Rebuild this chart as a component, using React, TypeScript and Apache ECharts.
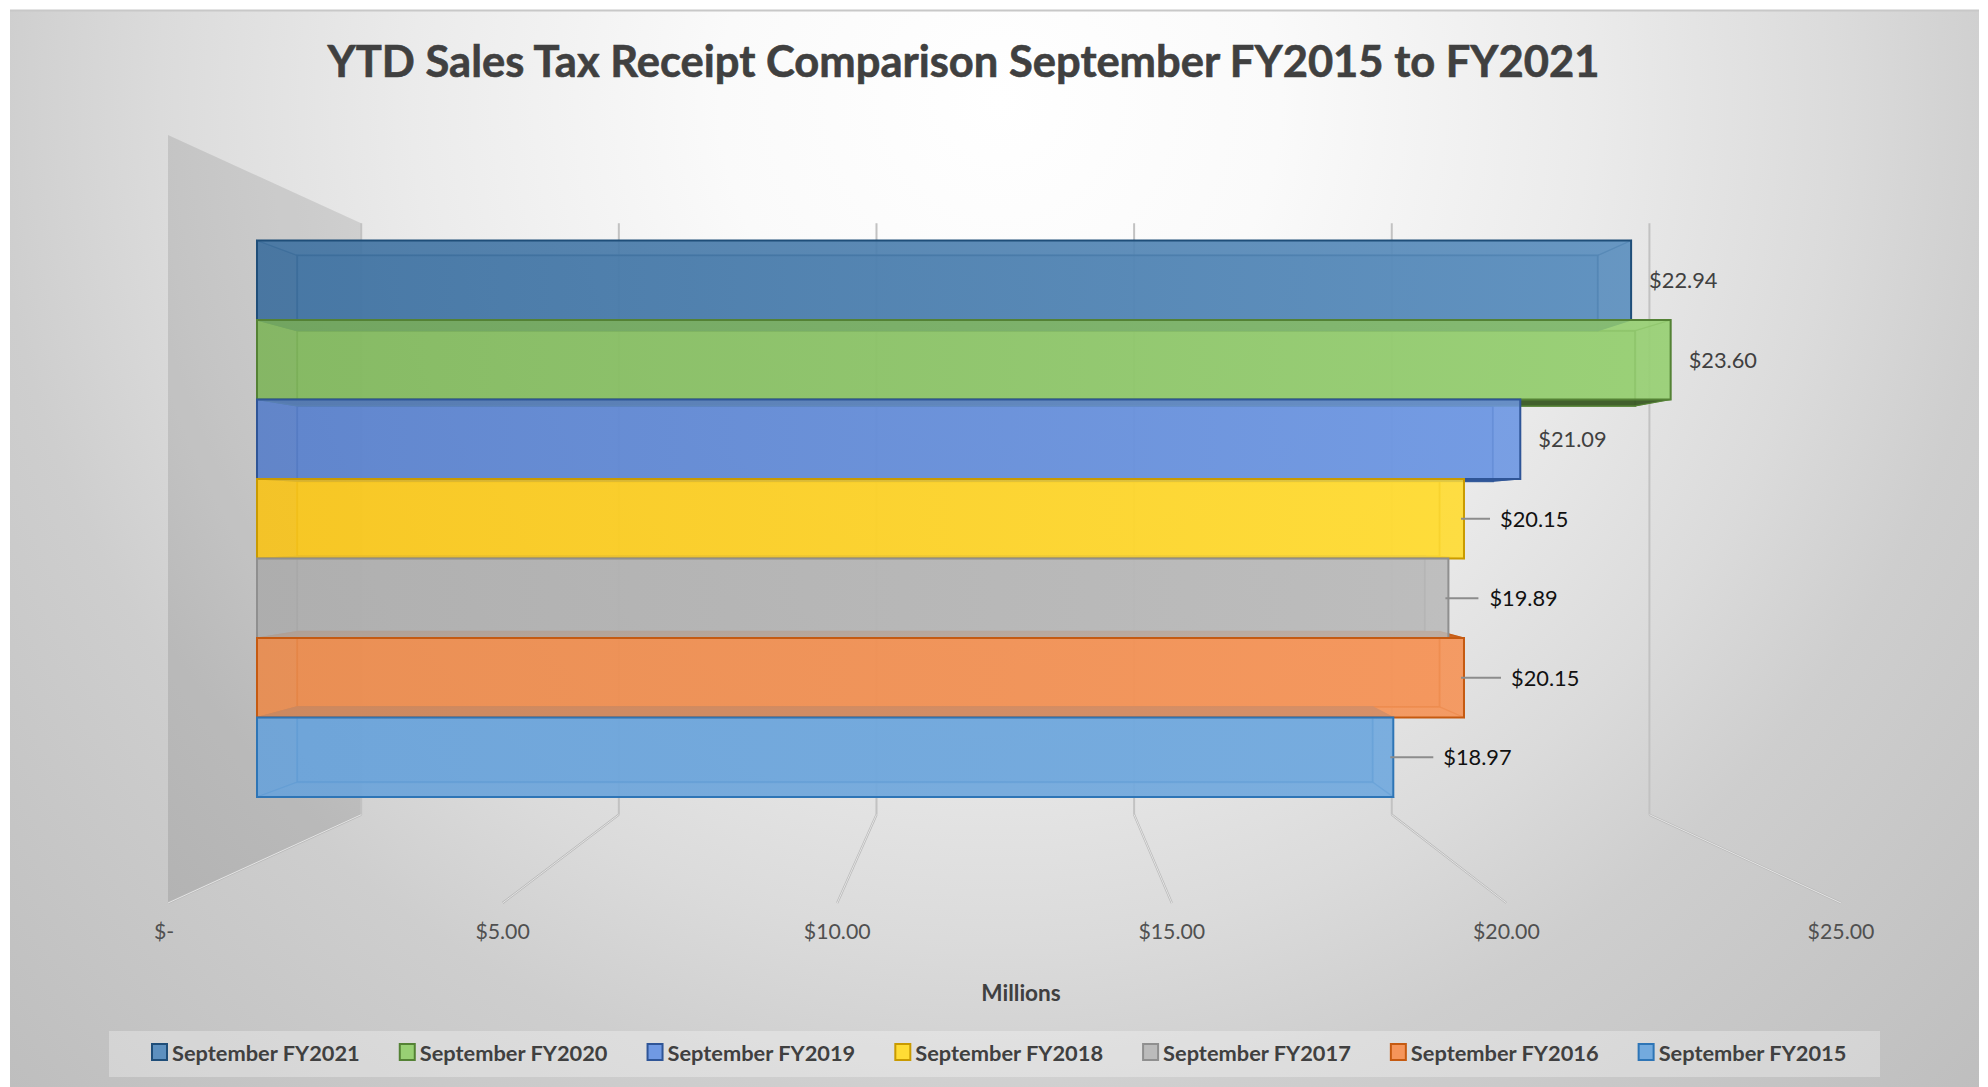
import React, { useEffect, useRef } from "react";
import * as echarts from "echarts";

const titleText = "YTD Sales Tax Receipt Comparison September FY2015 to FY2021";
const axisName = "Millions";
const seriesNames = [
  "September FY2021",
  "September FY2020",
  "September FY2019",
  "September FY2018",
  "September FY2017",
  "September FY2016",
  "September FY2015",
];
const seriesValues = [22.94, 23.6, 21.09, 20.15, 19.89, 20.15, 18.97];
const tickValues = [0, 5, 10, 15, 20, 25];

// styles, one per series
const leftColors = ["#3f709e", "#80b55d", "#5a80c9", "#f7c31c", "#acacac", "#e98c4f", "#6ba3d9"];
const rightColors = ["#5d90bf", "#98d074", "#7099e3", "#ffdc35", "#bbbbbb", "#f5955a", "#73aade"];
const edgeColors = ["#1f4e79", "#548235", "#2f5597", "#c99a00", "#8f8f8f", "#c55a11", "#2e75b6"];
const stickColors = ["#234a70", "#3c5a28", "#2f5597", "#c99a00", "#8f8f8f", "#c9601a", "#2e75b6"];
const labelGaps = [18, 18, 18, 36, 41, 47, 50];
const leaderGaps = [0, 0, 0, 26, 30, 37, 40];
const labelColors = ["#404040", "#404040", "#404040", "#111111", "#111111", "#111111", "#111111"];

const VP = { x: 1008, y: 519 };
const BAR_DEPTH = 0.9466;
const WALL_DEPTH = 0.77;
const FONT = "Lato, Carlito, sans-serif";

const project = (p: number[], k: number) => [VP.x + k * (p[0] - VP.x), VP.y + k * (p[1] - VP.y)];

function renderBar(idx: number) {
  return (_params: any, api: any) => {
    const value = api.value(0);
    const center = api.coord([value, api.value(1)]);
    const origin = api.coord([0, api.value(1)]);
    const band = api.size([0, 1])[1];
    const xL = origin[0];
    const xR = center[0];
    const yT = center[1] - band / 2;
    const yB = center[1] + band / 2;
    const [ixL, iyT] = project([xL, yT], BAR_DEPTH);
    const [ixR, iyB] = project([xR, yB], BAR_DEPTH);
    const z = 10 + idx * 10;
    const poly = (points: number[][], fill: string, opacity: number, z2: number) => ({
      type: "polygon",
      z2,
      shape: { points },
      style: { fill, opacity, stroke: edgeColors[idx], lineWidth: 1.2 },
    });
    const topOut = iyT < yT;
    const botOut = iyB > yB;
    const children: any[] = [
      // back face
      {
        type: "rect",
        z2: 1,
        shape: { x: ixL, y: iyT, width: ixR - ixL, height: iyB - iyT },
        style: { fill: rightColors[idx], opacity: 0.8, stroke: edgeColors[idx], lineWidth: 2 },
      },
      // end faces
      poly([[xL, yT], [ixL, iyT], [ixL, iyB], [xL, yB]], leftColors[idx], 0.55, 2),
      poly([[xR, yT], [ixR, iyT], [ixR, iyB], [xR, yB]], rightColors[idx], 0.55, 2),
      // top and bottom faces: dark where they stick out, pale where seen from within
      topOut
        ? poly([[xL, yT], [xR, yT], [ixR, iyT], [ixL, iyT]], stickColors[idx], 0.95, 3)
        : poly([[xL, yT], [xR, yT], [ixR, iyT], [ixL, iyT]], rightColors[idx], 0.55, 2),
      botOut
        ? poly([[xL, yB], [xR, yB], [ixR, iyB], [ixL, iyB]], stickColors[idx], 0.95, 3)
        : poly([[xL, yB], [xR, yB], [ixR, iyB], [ixL, iyB]], rightColors[idx], 0.55, 2),
      // front face
      {
        type: "rect",
        z2: z + 2,
        shape: { x: xL, y: yT, width: xR - xL, height: yB - yT },
        style: {
          opacity: 0.84,
          fill: {
            type: "linear",
            x: 0,
            y: 0,
            x2: 1,
            y2: 0,
            colorStops: [
              { offset: 0, color: leftColors[idx] },
              { offset: 1, color: rightColors[idx] },
            ],
          },
        },
      },
      {
        type: "rect",
        z2: z + 3,
        shape: { x: xL, y: yT, width: xR - xL, height: yB - yT },
        style: { fill: "none", stroke: edgeColors[idx], lineWidth: 2 },
      },
      // value label
      {
        type: "text",
        z2: 200,
        style: {
          x: xR + labelGaps[idx],
          y: center[1] - 0.5,
          text: `$${value.toFixed(2)}`,
          fill: labelColors[idx],
          fontFamily: FONT,
          fontSize: 21.8,
          verticalAlign: "middle",
          align: "left",
        },
      },
    ];
    if (leaderGaps[idx] > 0) {
      children.push({
        type: "line",
        z2: 199,
        shape: { x1: xR - 3, y1: center[1], x2: xR + leaderGaps[idx], y2: center[1] },
        style: { stroke: "#8c8c8c", lineWidth: 2 },
      });
    }
    return { type: "group", children };
  };
}

function renderWall(_params: any, api: any) {
  const v = api.value(0);
  const fb = api.coord([v, 0]);
  const ft = api.coord([v, 1]);
  const bb = project(fb, WALL_DEPTH);
  const bt = project(ft, WALL_DEPTH);
  const children: any[] = [];
  if (v === 0) {
    children.push({
      type: "polygon",
      shape: { points: [ft, bt, bb, fb] },
      style: { fill: "rgba(0,0,0,0.1)" },
    });
  }
  children.push(
    {
      type: "line",
      shape: { x1: bt[0], y1: bt[1], x2: bb[0], y2: bb[1] },
      style: { stroke: "#c2c2c2", lineWidth: 2 },
    },
    {
      type: "line",
      shape: { x1: bb[0], y1: bb[1], x2: fb[0], y2: fb[1] },
      style: { stroke: "#b8b8b8", lineWidth: 2.2 },
    },
    {
      type: "line",
      shape: { x1: bb[0], y1: bb[1], x2: fb[0], y2: fb[1] },
      style: { stroke: "#e4e4e4", lineWidth: 1 },
    }
  );
  return { type: "group", children };
}

export default function App() {
  const ref = useRef<HTMLDivElement>(null);
  useEffect(() => {
    document.body.style.margin = "0";
    const chart = echarts.init(ref.current!, undefined, { renderer: "svg" });
    chart.setOption({
      animation: false,
      backgroundColor: "#ffffff",
      title: {
        text: titleText,
        left: 958.5,
        top: 33,
        textAlign: "center",
        textStyle: {
          fontFamily: FONT,
          fontSize: 43.5,
          fontWeight: "bold",
          color: "#404040",
          textBorderColor: "#404040",
          textBorderWidth: 0.6,
        },
      },
      graphic: [
        {
          type: "rect",
          z: -10,
          shape: { x: 10, y: 10, width: 1969, height: 1077 },
          style: {
            fill: {
              type: "radial",
              global: true,
              x: 1000,
              y: 100,
              r: 1400,
              colorStops: [
                { offset: 0, color: "#ffffff" },
                { offset: 0.2, color: "#fafafa" },
                { offset: 0.42, color: "#ebebeb" },
                { offset: 0.6, color: "#dbdbdb" },
                { offset: 0.72, color: "#cecece" },
                { offset: 0.98, color: "#bfbfbf" },
                { offset: 1, color: "#bebebe" },
              ],
            },
          },
        },
        {
          type: "line",
          z: -9,
          shape: { x1: 10, y1: 10.5, x2: 1979, y2: 10.5 },
          style: { stroke: "#c8c8c8", lineWidth: 2 },
        },
        {
          type: "rect",
          z: -8,
          shape: { x: 109, y: 1031, width: 1771, height: 46 },
          style: { fill: "rgba(255,255,255,0.3)" },
        },
      ],
      legend: {
        left: 146,
        top: 1041,
        padding: [0, 5],
        itemWidth: 15,
        itemHeight: 16,
        itemGap: 38.6,
        selectedMode: false,
        icon: "rect",
        textStyle: { fontFamily: FONT, fontSize: 21.8, fontWeight: "bold", color: "#404040" },
        data: seriesNames.map((name, i) => ({
          name,
          icon: "rect",
          itemStyle: { color: rightColors[i], borderColor: edgeColors[i], borderWidth: 2 },
        })),
      },
      grid: [
        { left: 257, top: 240.5, width: 1497.5, height: 556.5 },
        { left: 168, top: 135, width: 1673, height: 768 },
      ],
      xAxis: [
        { type: "value", gridIndex: 0, min: 0, max: 25, interval: 5, show: false },
        {
          type: "value",
          gridIndex: 1,
          min: 0,
          max: 25,
          interval: 5,
          position: "bottom",
          axisLine: { show: false },
          axisTick: { show: false },
          splitLine: { show: false },
          axisLabel: {
            margin: 17,
            fontFamily: FONT,
            fontSize: 21.3,
            color: "#505050",
            showMinLabel: true,
            showMaxLabel: true,
            formatter: (v: number) => (v === 0 ? "{zero|$-}" : `$${v.toFixed(2)}`),
            rich: {
              zero: { fontFamily: FONT, fontSize: 21.3, color: "#505050", padding: [0, 8, 0, 0] },
            },
          },
          name: axisName,
          nameLocation: "middle",
          nameGap: 78,
          nameTextStyle: {
            fontFamily: FONT,
            fontSize: 22.6,
            fontWeight: "bold",
            color: "#404040",
            padding: [0, 0, 0, 33],
          },
        },
      ],
      yAxis: [
        { type: "category", gridIndex: 0, data: seriesNames, inverse: true, show: false },
        { type: "value", gridIndex: 1, min: 0, max: 1, show: false },
      ],
      series: [
        {
          type: "custom",
          name: "grid",
          xAxisIndex: 1,
          yAxisIndex: 1,
          z: 1,
          silent: true,
          clip: false,
          data: tickValues.map((v) => [v]),
          renderItem: renderWall,
        },
        ...seriesNames.map((name, i) => ({
          type: "custom",
          name,
          xAxisIndex: 0,
          yAxisIndex: 0,
          z: 2,
          clip: false,
          itemStyle: { color: rightColors[i] },
          data: [[seriesValues[i], i]],
          renderItem: renderBar(i),
        })),
      ],
    });
    return () => chart.dispose();
  }, []);
  return <div ref={ref} style={{ position: "fixed", left: 0, top: 0, width: 1988, height: 1087 }} />;
}
